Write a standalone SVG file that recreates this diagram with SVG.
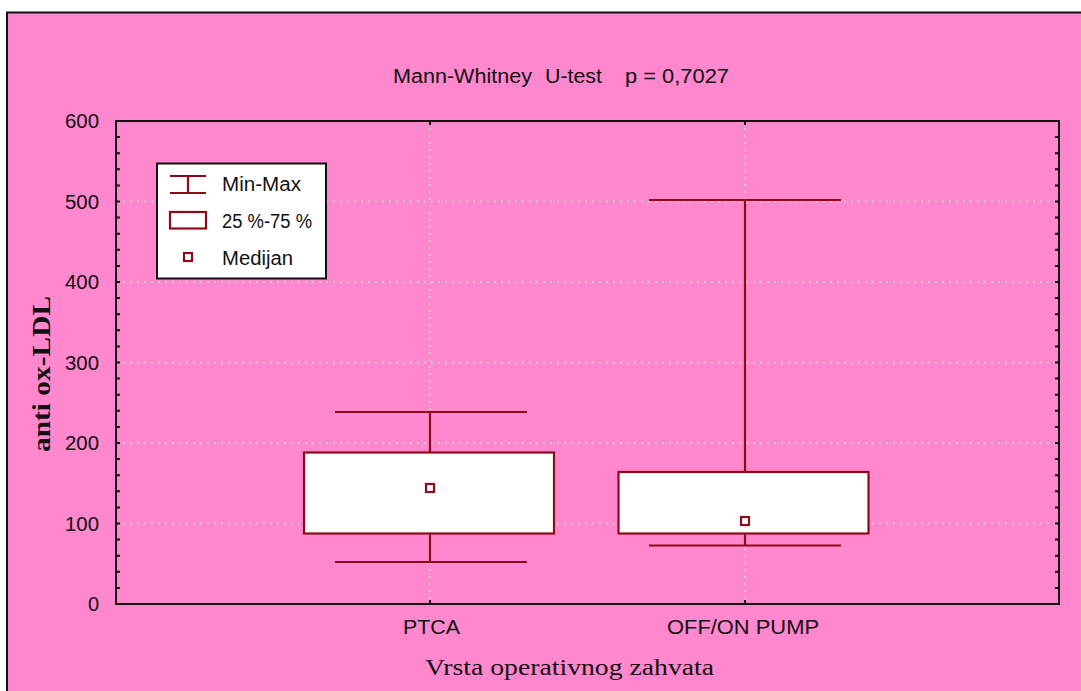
<svg xmlns="http://www.w3.org/2000/svg" width="1081" height="691" viewBox="0 0 1081 691">
<style>
.sans{font-family:"Liberation Sans",Arial,sans-serif;font-size:20px;fill:#111}
.serif{font-family:"Liberation Serif","Times New Roman",serif;fill:#111}
.grid{stroke:#c8c8c8;stroke-width:2;stroke-dasharray:2 5;fill:none}
.dr{stroke:#8e0a1a;stroke-width:2.2;fill:none}
.box{stroke:#8e0a1a;stroke-width:2.2;fill:#fff}
.ax{stroke:#111;stroke-width:2;fill:none}
</style>
<rect x="0" y="0" width="1081" height="691" fill="#fff"/>
<rect x="7" y="12.5" width="1074" height="679" fill="#ff87ce"/>
<path d="M7,691 V12.5 H1081" stroke="#111" stroke-width="2" fill="none"/>

<g id="title"><text class="sans" y="83"><tspan x="393" textLength="139" lengthAdjust="spacingAndGlyphs">Mann-Whitney</tspan><tspan x="545" textLength="57" lengthAdjust="spacingAndGlyphs">U-test</tspan><tspan x="625" textLength="104" lengthAdjust="spacingAndGlyphs">p = 0,7027</tspan></text></g>

<g id="gridlines">
<path class="grid" d="M116,201.5H1059M116,282H1059M116,362.5H1059M116,443H1059M116,523.5H1059M430,121V604M745,121V604"/>
</g>

<g id="axes">
<rect class="ax" x="116" y="121" width="943" height="483"/>
<path class="ax" d="M116,137.1h4M116,153.2h4M116,169.3h4M116,185.4h4M116,201.5h4M116,217.6h4M116,233.7h4M116,249.8h4M116,265.9h4M116,282h4M116,298.1h4M116,314.2h4M116,330.3h4M116,346.4h4M116,362.5h4M116,378.6h4M116,394.7h4M116,410.8h4M116,426.9h4M116,443h4M116,459.1h4M116,475.2h4M116,491.3h4M116,507.4h4M116,523.5h4M116,539.6h4M116,555.7h4M116,571.8h4M116,587.9h4"/>
<path class="ax" d="M1059,137.1h-4M1059,153.2h-4M1059,169.3h-4M1059,185.4h-4M1059,201.5h-4M1059,217.6h-4M1059,233.7h-4M1059,249.8h-4M1059,265.9h-4M1059,282h-4M1059,298.1h-4M1059,314.2h-4M1059,330.3h-4M1059,346.4h-4M1059,362.5h-4M1059,378.6h-4M1059,394.7h-4M1059,410.8h-4M1059,426.9h-4M1059,443h-4M1059,459.1h-4M1059,475.2h-4M1059,491.3h-4M1059,507.4h-4M1059,523.5h-4M1059,539.6h-4M1059,555.7h-4M1059,571.8h-4M1059,587.9h-4"/>
<path class="ax" d="M430,121v4M745,121v4M430,604v-4M745,604v-4"/>
</g>

<g id="y-labels" class="sans" text-anchor="end">
<text x="99" y="128" textLength="34" lengthAdjust="spacingAndGlyphs">600</text>
<text x="99" y="208.5" textLength="34" lengthAdjust="spacingAndGlyphs">500</text>
<text x="99" y="289" textLength="34" lengthAdjust="spacingAndGlyphs">400</text>
<text x="99" y="369.5" textLength="34" lengthAdjust="spacingAndGlyphs">300</text>
<text x="99" y="450" textLength="34" lengthAdjust="spacingAndGlyphs">200</text>
<text x="99" y="530.5" textLength="34" lengthAdjust="spacingAndGlyphs">100</text>
<text x="99" y="611">0</text>
</g>

<g id="x-labels" class="sans">
<text x="403" y="634" textLength="57" lengthAdjust="spacingAndGlyphs">PTCA</text>
<text x="667" y="634" textLength="152" lengthAdjust="spacingAndGlyphs">OFF/ON PUMP</text>
</g>

<g id="axis-titles">
<text class="serif" x="425" y="675" font-size="24" textLength="289" lengthAdjust="spacingAndGlyphs">Vrsta operativnog zahvata</text>
<text class="serif" transform="translate(50,374) rotate(-90)" text-anchor="middle" font-size="25" font-weight="bold" textLength="156" lengthAdjust="spacingAndGlyphs">anti ox-LDL</text>
</g>

<g id="connectors">
<path class="dr" d="M430,412V452.5M430,533.5V562M335,412H527M335,562H527"/>
<path class="dr" d="M745,200V472M745,533.5V545.5M649,200H841M649,545.5H841"/>
</g>

<g id="box-ptca">
<rect class="box" x="304" y="452.5" width="250" height="81"/>
<rect class="box" x="426" y="484" width="8" height="8"/>
</g>

<g id="box-offon">
<rect class="box" x="618.5" y="472" width="250" height="61.5"/>
<rect class="box" x="741" y="517" width="8" height="8"/>
</g>

<g id="legend">
<rect x="157" y="163.5" width="169" height="115" fill="#fff" stroke="#111" stroke-width="2"/>
<path class="dr" d="M170,176H206M170,193H206M188,176V193"/>
<rect class="box" x="170" y="212" width="36" height="16.5"/>
<rect class="box" x="184" y="253" width="8" height="8"/>
<text class="sans" x="222" y="191" textLength="79" lengthAdjust="spacingAndGlyphs">Min-Max</text>
<text class="sans" x="222" y="228" textLength="90" lengthAdjust="spacingAndGlyphs">25 %-75 %</text>
<text class="sans" x="222" y="265" textLength="71" lengthAdjust="spacingAndGlyphs">Medijan</text>
</g>
</svg>
